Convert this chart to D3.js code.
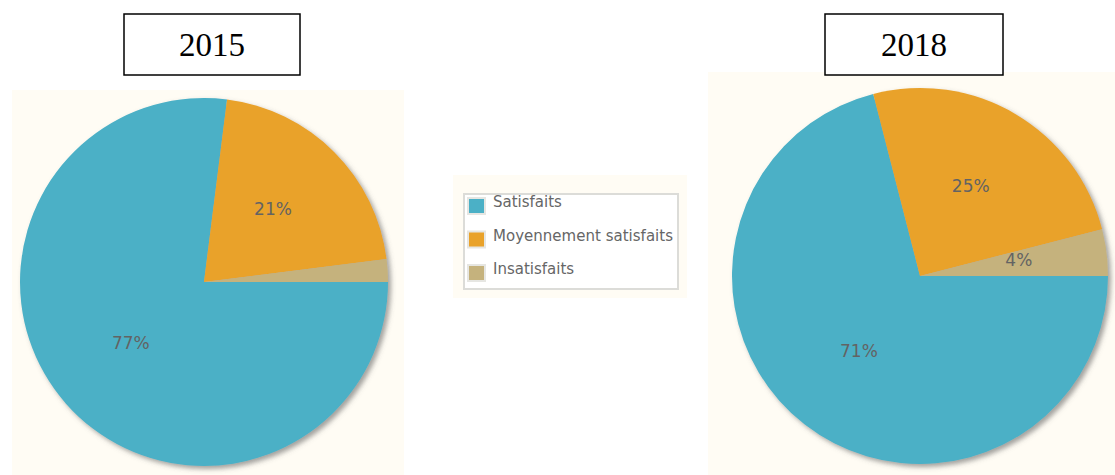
<!DOCTYPE html>
<html>
<head>
<meta charset="utf-8">
<script src="https://cdn.jsdelivr.net/npm/d3@7"></script>
<style>
  html, body { margin: 0; padding: 0; background: #fff; }
  svg { display: block; }
</style>
</head>
<body>
<div id="chart"></div>
<script>
const categories = ["Satisfaits", "Moyennement satisfaits", "Insatisfaits"];
const colors = ["#4bb0c6", "#e9a22a", "#c5b27d"];
const years = ["2015", "2018"];
const values2015 = [77, 21, 2];
const values2018 = [71, 25, 4];
const labels2015 = ["77%", "21%", ""];
const labels2018 = ["71%", "25%", "4%"];

const width = 1115;
const height = 475;

const svg = d3.select("#chart")
  .append("svg")
  .attr("width", width)
  .attr("height", height);

const defs = svg.append("defs");
const shadow = defs.append("filter")
  .attr("id", "shadow")
  .attr("x", "-10%").attr("y", "-10%")
  .attr("width", "130%").attr("height", "130%");
shadow.append("feDropShadow")
  .attr("dx", 3).attr("dy", 3)
  .attr("stdDeviation", 2.5)
  .attr("flood-color", "#555")
  .attr("flood-opacity", 0.55);

const color = d3.scaleOrdinal().domain(categories).range(colors);

// each pie panel
const panels = [
  { year: years[0], values: values2015, labels: labels2015,
    bg: [12, 90, 392, 385], cx: 204, cy: 282, r: 184, box: [124, 14, 176, 61] },
  { year: years[1], values: values2018, labels: labels2018,
    bg: [708, 72, 407, 403], cx: 920, cy: 276, r: 188, box: [825, 14, 178, 61] }
];

const pie = d3.pie()
  .sort(null)
  .startAngle(Math.PI / 2)
  .endAngle(Math.PI / 2 + 2 * Math.PI);

panels.forEach(p => {
  svg.append("rect")
    .attr("x", p.bg[0]).attr("y", p.bg[1])
    .attr("width", p.bg[2]).attr("height", p.bg[3])
    .attr("fill", "#fffcf4");

  const data = categories.map((c, i) => ({ cat: c, value: p.values[i], label: p.labels[i] }));
  const arcs = pie.value(d => d.value)(data);

  const arc = d3.arc().innerRadius(0).outerRadius(p.r);
  const labelArc = d3.arc().innerRadius(p.r * 0.53).outerRadius(p.r * 0.53);

  const g = svg.append("g")
    .attr("transform", `translate(${p.cx},${p.cy})`);

  g.append("g")
    .attr("filter", "url(#shadow)")
    .selectAll("path")
    .data(arcs)
    .join("path")
    .attr("d", arc)
    .attr("fill", d => color(d.data.cat));

  g.selectAll("text")
    .data(arcs)
    .join("text")
    .attr("transform", d => `translate(${labelArc.centroid(d)})`)
    .attr("text-anchor", "middle")
    .attr("dy", "0.12em")
    .attr("font-family", "'DejaVu Sans', Verdana, sans-serif")
    .attr("font-size", "17px")
    .attr("fill", "#636363")
    .text(d => d.data.label);

  // year title box
  svg.append("rect")
    .attr("x", p.box[0]).attr("y", p.box[1])
    .attr("width", p.box[2]).attr("height", p.box[3])
    .attr("fill", "#fff")
    .attr("stroke", "#000")
    .attr("stroke-width", 1.5);

  svg.append("text")
    .attr("x", p.box[0] + p.box[2] / 2)
    .attr("y", 56)
    .attr("text-anchor", "middle")
    .attr("font-family", "'Liberation Serif', 'Times New Roman', serif")
    .attr("font-size", "33px")
    .attr("fill", "#000")
    .text(p.year);
});

// legend
const legend = svg.append("g");
legend.append("rect")
  .attr("x", 453).attr("y", 175)
  .attr("width", 234).attr("height", 123)
  .attr("fill", "#fffcf4");
legend.append("rect")
  .attr("x", 464).attr("y", 194)
  .attr("width", 214).attr("height", 95)
  .attr("fill", "#fff")
  .attr("stroke", "#dcdcd8")
  .attr("stroke-width", 2);

const item = legend.selectAll(".item")
  .data(categories)
  .join("g")
  .attr("class", "item")
  .attr("transform", (d, i) => `translate(467,${197 + i * 33.5})`);

item.append("rect")
  .attr("width", 19).attr("height", 18)
  .attr("fill", "#e6e6e2");
item.append("rect")
  .attr("x", 2).attr("y", 2)
  .attr("width", 15).attr("height", 14)
  .attr("fill", d => color(d));
item.append("text")
  .attr("x", 26)
  .attr("y", 10)
  .attr("font-family", "'DejaVu Sans', Verdana, sans-serif")
  .attr("font-size", "15px")
  .attr("textLength", d => d === categories[1] ? 180 : null)
  .attr("fill", "#666")
  .text(d => d);
</script>
</body>
</html>
